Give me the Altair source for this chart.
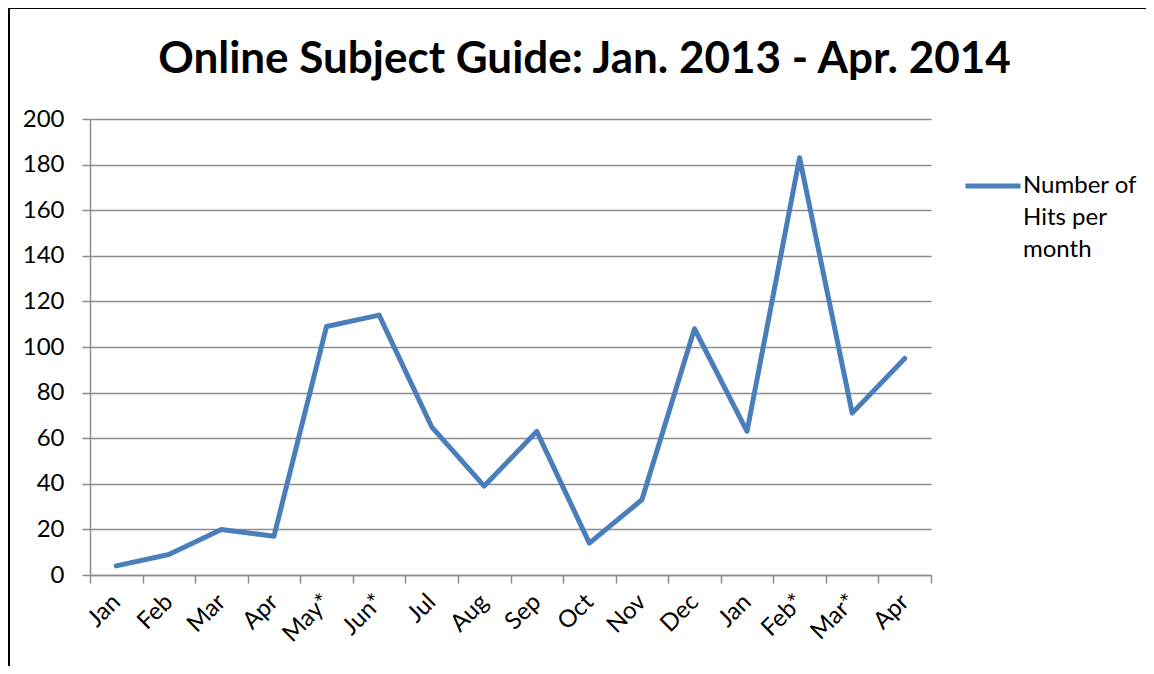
import altair as alt
import pandas as pd

months = ["Jan", "Feb", "Mar", "Apr", "May*", "Jun*", "Jul", "Aug", "Sep", "Oct",
          "Nov", "Dec", "Jan", "Feb*", "Mar*", "Apr"]
hits = [4, 9, 20, 17, 109, 114, 65, 39, 63, 14, 33, 108, 63, 183, 71, 95]
series_name = "Number of Hits per month"

df = pd.DataFrame({
    "idx": list(range(len(months))),
    "month": months,
    "hits": hits,
    "series": [series_name] * len(months),
})

label_expr = "[" + ",".join("'" + m + "'" for m in months) + "][datum.value]"
FONT = "Lato"
FS = 24

line = alt.Chart(df).mark_line(strokeWidth=5, strokeCap="round", strokeJoin="round").encode(
    x=alt.X("idx:O", title=None,
            scale=alt.Scale(paddingInner=0, paddingOuter=0),
            axis=alt.Axis(labelExpr=label_expr, labelAngle=-45, labelAlign="right",
                          labelBaseline="middle", tickBand="extent", grid=False,
                          domainColor="#8c8c8c", domainWidth=1.5, tickColor="#8c8c8c",
                          tickWidth=1.5, tickSize=8, labelFontSize=FS, labelColor="black",
                          labelFont=FONT, labelPadding=15)),
    y=alt.Y("hits:Q", title=None,
            scale=alt.Scale(domain=[0, 200], nice=False),
            axis=alt.Axis(values=list(range(0, 201, 20)), grid=True, gridColor="#8c8c8c",
                          gridWidth=1.5, domainColor="#8c8c8c", domainWidth=1.5,
                          tickColor="#8c8c8c", tickWidth=1.5, tickSize=8,
                          labelFontSize=FS, labelColor="black", labelFont=FONT,
                          labelPadding=18)),
    color=alt.Color("series:N",
                    scale=alt.Scale(range=["#4A7EBB"]),
                    legend=alt.Legend(title=None, orient="none", legendX=873, legendY=37,
                                      symbolType="stroke", symbolSize=3025,
                                      symbolStrokeWidth=5, labelFontSize=FS,
                                      labelFont=FONT, labelColor="black",
                                      labelExpr="['Number of', 'Hits per', 'month']",
                                      labelLimit=0, padding=0, labelOffset=0)),
)

frame_left = alt.Chart(df).mark_rule(color="black", strokeWidth=2).encode(
    x=alt.value(-81), y=alt.value(-111), y2=alt.value(560))
frame_top = alt.Chart(df).mark_rule(color="black", strokeWidth=2).encode(
    x=alt.value(-82), x2=alt.value(1070), y=alt.value(-111))

chart = alt.layer(line, frame_left, frame_top).properties(
    width=841, height=456,
    padding={"left": 82, "top": 111, "right": 215, "bottom": 91},
    autosize=alt.AutoSizeParams(type="none"),
    title=alt.TitleParams("Online Subject Guide: Jan. 2013 - Apr. 2014",
                          font=FONT, fontSize=44, fontWeight="bold", color="black",
                          anchor="middle", dx=74, offset=0, dy=110, baseline="alphabetic"),
).configure(
    view=alt.ViewConfig(stroke="transparent"),
    style={"guide-label": {"lineHeight": 32}},
)

chart.save("out.html", embed_options={"renderer": "svg", "actions": False})
